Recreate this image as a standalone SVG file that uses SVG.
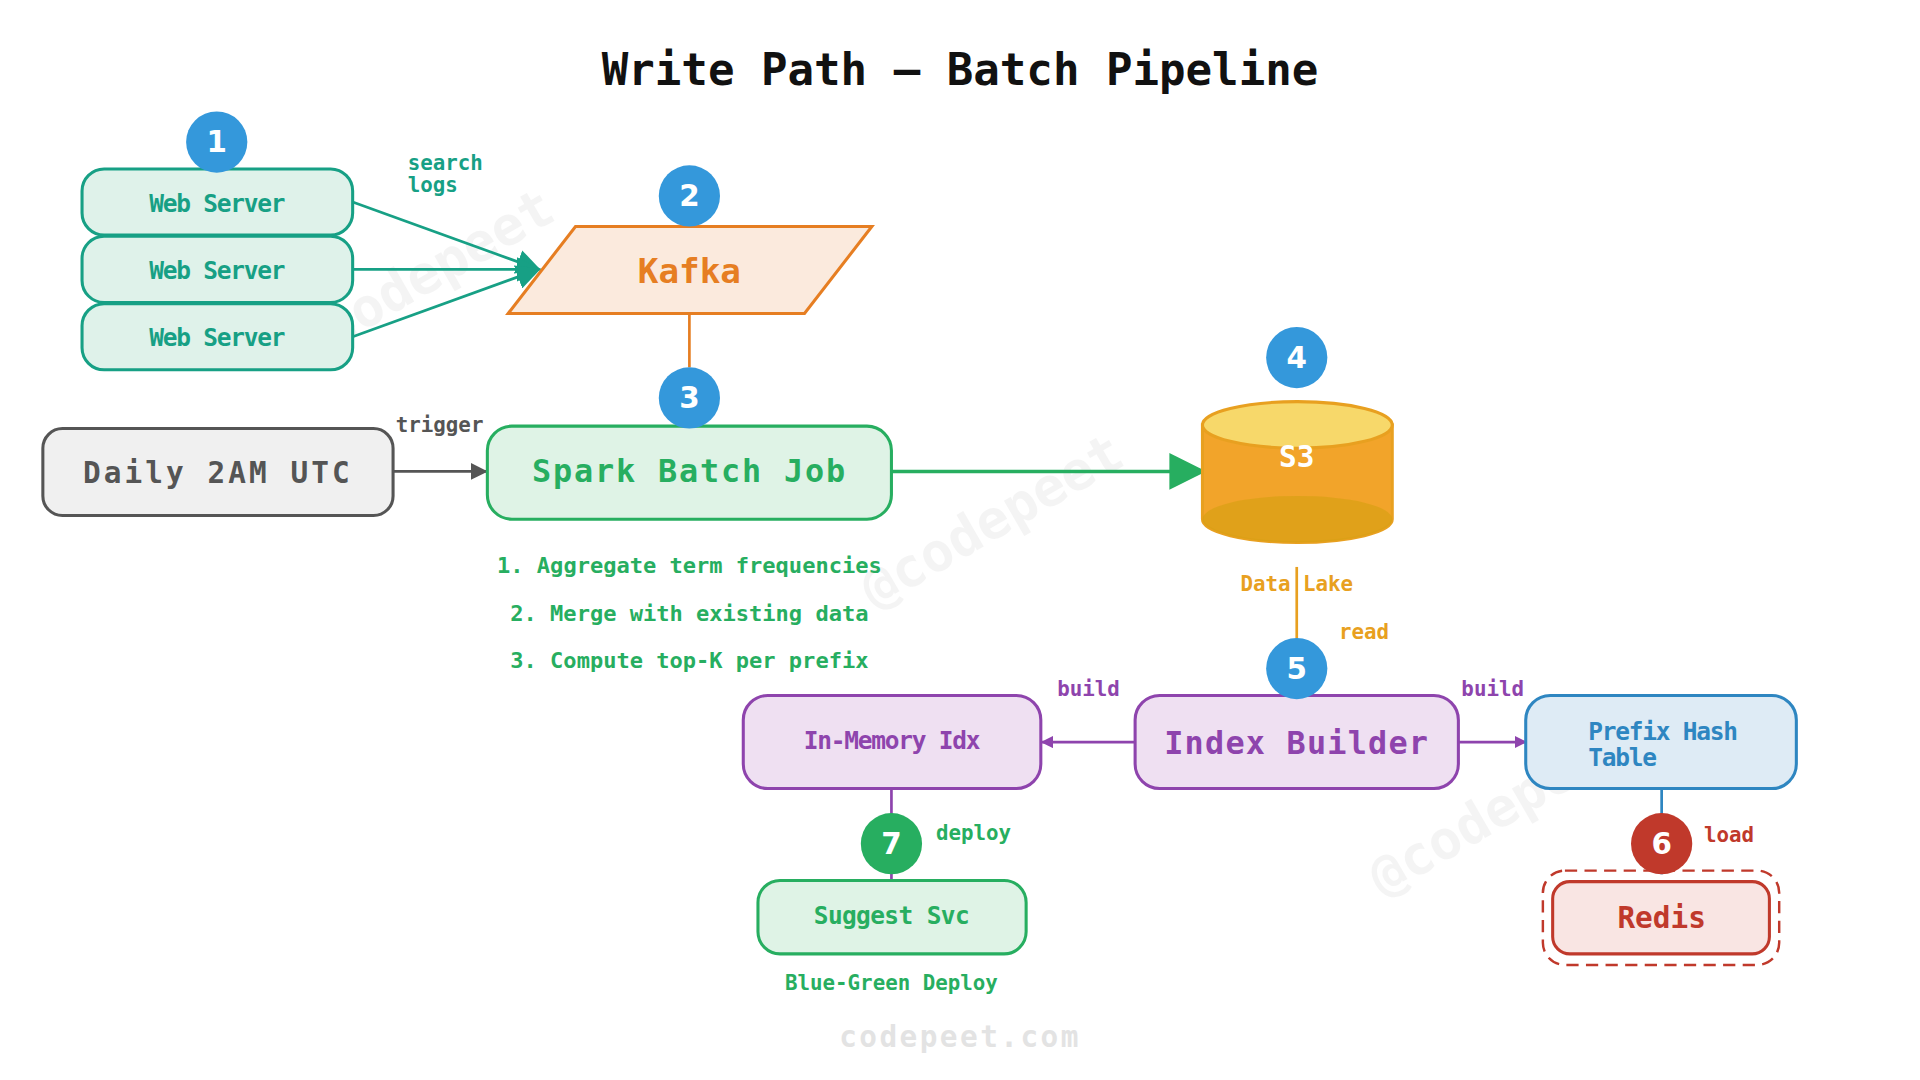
<svg xmlns="http://www.w3.org/2000/svg" width="1920" height="1080" viewBox="0 0 1920 1080">
<defs>
<style>
text{font-family:"DejaVu Sans Mono","Liberation Mono",monospace;font-weight:bold;text-anchor:middle;dominant-baseline:central}
text.st{text-anchor:start}
.badge circle{fill:#3498db}
.badge text{fill:#fff;font-size:24px;font-family:"DejaVu Sans","Noto Sans",sans-serif}
.wm{fill:#000;opacity:0.04;font-size:44px}
</style>
<marker id="mTeal" viewBox="0 0 10 10" refX="9" refY="5" markerWidth="20" markerHeight="20" markerUnits="userSpaceOnUse" orient="auto"><path d="M0,0L10,5L0,10z" fill="#17a085"/></marker>
<marker id="mGray" viewBox="0 0 10 10" refX="9" refY="5" markerWidth="14" markerHeight="14" markerUnits="userSpaceOnUse" orient="auto"><path d="M0,0L10,5L0,10z" fill="#555"/></marker>
<marker id="mGreen" viewBox="0 0 10 10" refX="9" refY="5" markerWidth="30" markerHeight="30" markerUnits="userSpaceOnUse" orient="auto"><path d="M0,0L10,5L0,10z" fill="#27ae60"/></marker>
<marker id="mPurple" viewBox="0 0 10 10" refX="9" refY="5" markerWidth="10" markerHeight="10" markerUnits="userSpaceOnUse" orient="auto"><path d="M0,0L10,5L0,10z" fill="#8e44ad"/></marker>
</defs>
<rect width="1920" height="1080" fill="#fff"/>
<g transform="scale(1.2245)">
<g id="watermarks">
<text class="wm" x="345" y="225" transform="rotate(-30 345 225)">@codepeet</text>
<text class="wm" x="810" y="425" transform="rotate(-30 810 425)">@codepeet</text>
<text class="wm" x="1225" y="660" transform="rotate(-30 1225 660)">@codepeet</text>
</g>
<text x="784" y="57" font-size="36" fill="#111">Write Path — Batch Pipeline</text>
<g id="connectors" fill="none" stroke-width="2.2">
<path d="M288,165L440,220" stroke="#17a085" marker-end="url(#mTeal)"/>
<path d="M288,220L440,220" stroke="#17a085" marker-end="url(#mTeal)"/>
<path d="M288,275L440,220" stroke="#17a085" marker-end="url(#mTeal)"/>
<path d="M563,256V300" stroke="#e67e22"/>
<path d="M321,385H397" stroke="#555" marker-end="url(#mGray)"/>
<path d="M728,385H982" stroke="#27ae60" stroke-width="2.8" marker-end="url(#mGreen)"/>
<path d="M1059,463V522" stroke="#e8a020"/>
<path d="M927,606H851" stroke="#8e44ad" marker-end="url(#mPurple)"/>
<path d="M1191,606H1246" stroke="#8e44ad" marker-end="url(#mPurple)"/>
<path d="M1357,644V714" stroke="#2e86c1"/>
<path d="M728,644V718" stroke="#8e44ad"/>
<text class="st" font-size="17" fill="#17a085" stroke="none"><tspan x="333" y="133">search</tspan><tspan x="333" y="151">logs</tspan></text>
<text x="359" y="347" font-size="17" fill="#555" stroke="none">trigger</text>
<text x="1114" y="516" font-size="17" fill="#e8a020" stroke="none">read</text>
<text x="889" y="563" font-size="17" fill="#8e44ad" stroke="none">build</text>
<text x="1219" y="563" font-size="17" fill="#8e44ad" stroke="none">build</text>
<text x="1412" y="682" font-size="17" fill="#c0392b" stroke="none">load</text>
<text x="795" y="680" font-size="17" fill="#27ae60" stroke="none">deploy</text>
</g>
<g id="web1"><rect x="67" y="138" width="221" height="54" rx="18" fill="#dff2ea" stroke="#17a085" stroke-width="2.5"/><text x="177" y="166" font-size="20" fill="#17a085" letter-spacing="-1">Web Server</text></g>
<g id="web2"><rect x="67" y="193" width="221" height="54" rx="18" fill="#dff2ea" stroke="#17a085" stroke-width="2.5"/><text x="177" y="221" font-size="20" fill="#17a085" letter-spacing="-1">Web Server</text></g>
<g id="web3"><rect x="67" y="248" width="221" height="54" rx="18" fill="#dff2ea" stroke="#17a085" stroke-width="2.5"/><text x="177" y="276" font-size="20" fill="#17a085" letter-spacing="-1">Web Server</text></g>
<g id="kafka"><path d="M470,185H712L657,256H415Z" fill="#fbeadd" stroke="#e67e22" stroke-width="2.5"/><text x="563" y="221" font-size="28" fill="#e67e22">Kafka</text></g>
<g id="daily"><rect x="35" y="350" width="286" height="71" rx="16" fill="#f0f0f0" stroke="#555" stroke-width="2.5"/><text x="178" y="386" font-size="24" fill="#555" letter-spacing="2.5">Daily 2AM UTC</text></g>
<g id="spark"><rect x="398" y="348" width="330" height="76" rx="20" fill="#dff3e6" stroke="#27ae60" stroke-width="2.5"/><text x="563" y="385" font-size="26" fill="#27ae60" letter-spacing="1.5">Spark Batch Job</text></g>
<g id="notes">
<text x="563" y="462" fill="#27ae60" font-size="18">1. Aggregate term frequencies</text>
<text x="563" y="501" fill="#27ae60" font-size="18">2. Merge with existing data</text>
<text x="563" y="539" fill="#27ae60" font-size="18">3. Compute top-K per prefix</text>
</g>
<g id="s3">
<path d="M982,347V424A77.5,19 0 0 0 1137,424V347Z" fill="#f2a42a" stroke="#e8a020" stroke-width="2.5"/>
<path d="M982,424A77.5,19 0 0 0 1137,424A77.5,19 0 0 0 982,424Z" fill="#d4a010" opacity="0.6"/>
<ellipse cx="1059.5" cy="347" rx="77.5" ry="19" fill="#f7d86a" stroke="#e8a020" stroke-width="2.5"/>
<text x="1059" y="373" font-size="24" fill="#fff">S3</text>
<text x="1059" y="477" font-size="17" fill="#e8a020">Data Lake</text>
</g>
<g id="indexbuilder"><rect x="927" y="568" width="264" height="76" rx="20" fill="#efe0f2" stroke="#8e44ad" stroke-width="2.5"/><text x="1059" y="607" font-size="26" fill="#8e44ad" letter-spacing="1">Index Builder</text></g>
<g id="inmem"><rect x="607" y="568" width="243" height="76" rx="20" fill="#efe0f2" stroke="#8e44ad" stroke-width="2.5"/><text x="728" y="605" font-size="20" fill="#8e44ad" letter-spacing="-1">In-Memory Idx</text></g>
<g id="prefix"><rect x="1246" y="568" width="221" height="76" rx="20" fill="#deebf5" stroke="#2e86c1" stroke-width="2.5"/><text class="st" font-size="20" fill="#2e86c1" letter-spacing="-1"><tspan x="1297" y="597">Prefix Hash</tspan><tspan x="1297" y="618">Table</tspan></text></g>
<g id="redis"><rect x="1260" y="711" width="193" height="77" rx="18" fill="none" stroke="#c0392b" stroke-width="2" stroke-dasharray="10 6"/><rect x="1268" y="720" width="177" height="59" rx="14" fill="#f9e5e3" stroke="#c0392b" stroke-width="2.5"/><text x="1357" y="750" font-size="24" fill="#c0392b">Redis</text></g>
<g id="suggest"><rect x="619" y="719" width="219" height="60" rx="18" fill="#dff3e6" stroke="#27ae60" stroke-width="2.5"/><text x="728" y="748" font-size="20" fill="#27ae60" letter-spacing="-0.5">Suggest Svc</text><text x="728" y="803" font-size="17" fill="#27ae60">Blue-Green Deploy</text></g>
<g id="badges">
<g class="badge"><circle cx="177" cy="116" r="25"/><text x="177" y="116">1</text></g>
<g class="badge"><circle cx="563" cy="160" r="25"/><text x="563" y="160">2</text></g>
<g class="badge"><circle cx="563" cy="325" r="25"/><text x="563" y="325">3</text></g>
<g class="badge"><circle cx="1059" cy="292" r="25"/><text x="1059" y="292">4</text></g>
<g class="badge"><circle cx="1059" cy="546" r="25"/><text x="1059" y="546">5</text></g>
<g class="badge"><circle cx="1357" cy="689" r="25" style="fill:#c0392b"/><text x="1357" y="689">6</text></g>
<g class="badge"><circle cx="728" cy="689" r="25" style="fill:#27ae60"/><text x="728" y="689">7</text></g>
</g>
<text x="784" y="847" font-size="24" fill="#e3e3e3" letter-spacing="2">codepeet.com</text>
</g>
</svg>
